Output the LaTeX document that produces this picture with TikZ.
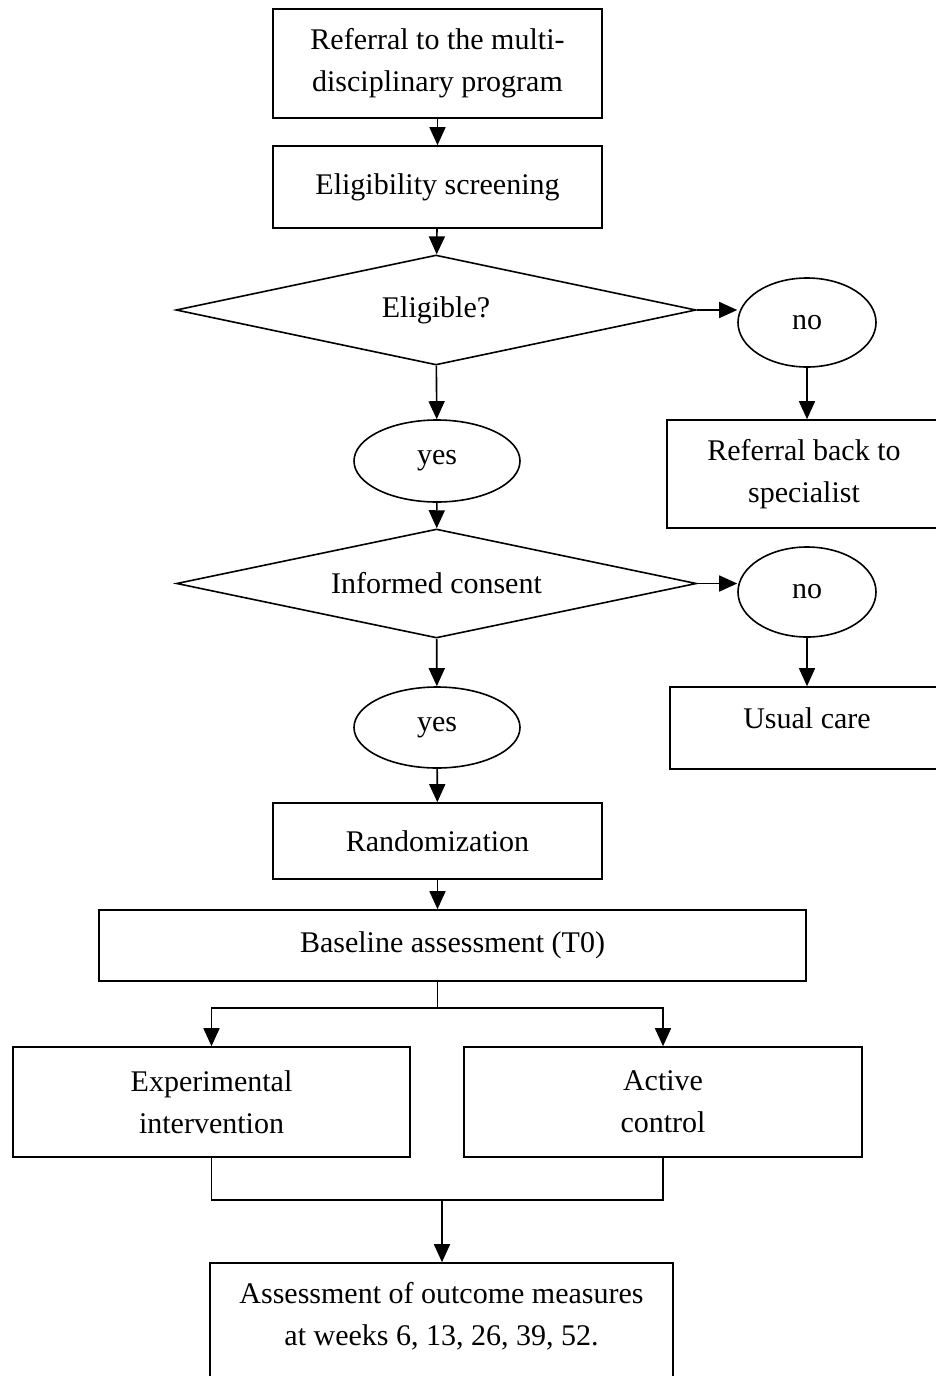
\documentclass[tikz,border=0pt]{standalone}
\usepackage{fontspec}
\setmainfont{Liberation Serif}
\usetikzlibrary{arrows.meta,shapes.geometric}

\begin{document}
\begin{tikzpicture}[>={Triangle[length=9pt,width=8pt]},x=0.5pt,y=-0.5pt,
  line width=0.8pt,font=\fontsize{15}{21}\selectfont,
  box/.style={draw,rectangle,inner sep=0pt,align=center},
  decision/.style={draw,diamond,aspect=4.7,inner sep=0pt},
  answer/.style={draw,ellipse,inner sep=0pt}]
% pixel grid of the page: x to the right, y downwards
\useasboundingbox (0,0) rectangle (936,1376);
\node[box,minimum width=164.5pt,minimum height=54.5pt] (refer) at (437.5,63.5)
  {Referral to the multi-\\disciplinary program};
\node[box,minimum width=164.5pt,minimum height=41pt] (screen) at (437.5,187)
  {Eligibility screening};
\node[decision,minimum width=260pt,minimum height=55pt] (eligible) at (436,310)
  {Eligible?};
\node[answer,minimum width=69pt,minimum height=44.5pt] (noA) at (807,322.5) {no};
\node[box,minimum width=137pt,minimum height=54pt] (back) at (804,474)
  {Referral back to\\specialist};
\node[answer,minimum width=83pt,minimum height=41pt] (yesA) at (437,461) {yes};
\node[decision,minimum width=260pt,minimum height=54.5pt] (consent) at (436.5,583.5)
  {Informed consent};
\node[answer,minimum width=69pt,minimum height=45pt] (noB) at (807,592) {no};
\node[box,minimum width=137pt,minimum height=41pt,text depth=10pt] (usual) at (807,728)
  {Usual care};
\node[answer,minimum width=83pt,minimum height=40.5pt] (yesB) at (437,727.5) {yes};
\node[box,minimum width=164.5pt,minimum height=38pt] (random) at (437.5,841)
  {Randomization};
\node[box,minimum width=353.5pt,minimum height=35.5pt] (base) at (452.5,945.5)
  {Baseline assessment (T0)};
\node[box,minimum width=198.5pt,minimum height=55pt] (exper) at (211.5,1102)
  {Experimental\\intervention};
\node[box,minimum width=199pt,minimum height=55pt] (active) at (663,1102)
  {Active\\control};
\node[box,minimum width=231.5pt,minimum height=72pt] (assess) at (441.5,1335)
  {Assessment of outcome measures\\at weeks 6, 13, 26, 39, 52.\\\mbox{}};
\coordinate (split) at (437.5,1008);
\coordinate (merge) at (442,1200);
\draw[->] (refer) -- (screen);
\draw[->] (screen) -- (eligible);
\draw[->] (eligible.east) -- (eligible.east -| noA.west);
\draw[->] (noA.south) -- (noA.south |- back.north);
\draw[->] (eligible) -- (yesA);
\draw[->] (yesA) -- (consent);
\draw[->] (consent.east) -- (consent.east -| noB.west);
\draw[->] (noB.south) -- (noB.south |- usual.north);
\draw[->] (consent) -- (yesB);
\draw[->] (yesB) -- (random);
\draw[->] (random.south) -- (random.south |- base.north);
\draw (split |- base.south) -- (split);
\draw[->] (split) -| (exper.north);
\draw[->] (split) -| (active.north);
\draw (exper.south) |- (merge) -| (active.south);
\draw[->] (merge) -- (merge |- assess.north);
\end{tikzpicture}
\end{document}
